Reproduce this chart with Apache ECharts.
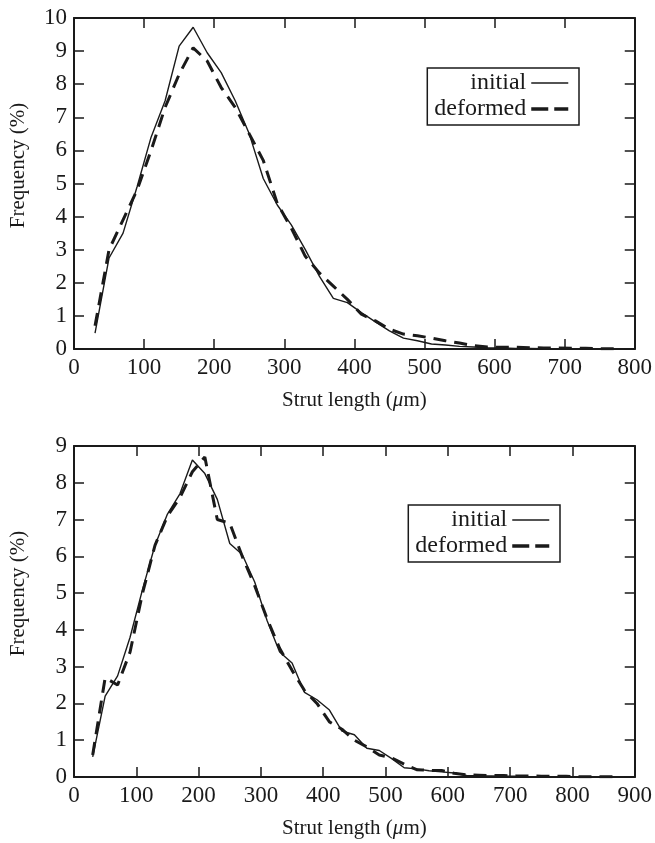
<!DOCTYPE html>
<html>
<head>
<meta charset="utf-8">
<script src="https://cdn.jsdelivr.net/npm/echarts@6/dist/echarts.min.js"></script>
<style>
  html, body { margin: 0; padding: 0; background: #fff; }
  #chart { width: 655px; height: 843px; }
</style>
</head>
<body>
<div id="chart"></div>
<script>
// Strut length bins (µm) and frequency (%) for the two samples
const lengthsA = [30, 50, 70, 90, 110, 130, 150, 170, 190, 210, 230, 250, 270, 290, 310, 330, 350, 370, 390, 410,
  430, 450, 470, 490, 510, 530, 550, 570, 590, 610, 630, 650, 670, 690, 710, 730, 750, 770];
const initialA = [0.48, 2.75, 3.5, 4.9, 6.4, 7.5, 9.15, 9.72, 8.95, 8.35, 7.5, 6.5, 5.15, 4.35, 3.75, 3.0, 2.2, 1.53, 1.4, 1.1,
  0.82, 0.55, 0.33, 0.25, 0.15, 0.12, 0.08, 0.06, 0.04, 0.03, 0.02, 0.02, 0.01, 0.01];
const deformedA = [0.7, 3.0, 3.9, 4.8, 6.0, 7.3, 8.3, 9.1, 8.7, 7.9, 7.3, 6.5, 5.7, 4.4, 3.65, 2.8, 2.3, 1.9, 1.5, 1.05,
  0.85, 0.6, 0.45, 0.4, 0.33, 0.25, 0.18, 0.1, 0.06, 0.05, 0.05, 0.04, 0.03, 0.03, 0.02, 0.02, 0.01, 0.01];

const lengthsB = [30, 50, 70, 90, 110, 130, 150, 170, 190, 210, 230, 250, 270, 290, 310, 330, 350, 370, 390, 410,
  430, 450, 470, 490, 510, 530, 550, 570, 590, 610, 630, 650, 670, 690, 710, 730, 750, 770, 790, 810, 830, 850, 870];
const initialB = [0.55, 2.2, 2.75, 3.8, 5.1, 6.3, 7.15, 7.7, 8.62, 8.25, 7.55, 6.35, 6.05, 5.3, 4.25, 3.4, 3.1, 2.3, 2.1, 1.82,
  1.25, 1.15, 0.78, 0.72, 0.5, 0.25, 0.22, 0.17, 0.14, 0.11, 0.04, 0.03, 0.03, 0.02, 0.02, 0.01];
const deformedB = [0.6, 2.7, 2.5, 3.4, 5.0, 6.3, 7.1, 7.6, 8.3, 8.7, 7.0, 6.9, 6.0, 5.2, 4.3, 3.5, 2.9, 2.35, 2.0, 1.5,
  1.3, 1.0, 0.82, 0.6, 0.52, 0.35, 0.2, 0.18, 0.18, 0.1, 0.06, 0.05, 0.04, 0.04, 0.03, 0.03, 0.02, 0.02, 0.02, 0.01,
  0.01, 0.01, 0.01];

const xTicksA = { min: 0, max: 800, interval: 100 };
const yTicksA = { min: 0, max: 10, interval: 1 };
const xTicksB = { min: 0, max: 900, interval: 100 };
const yTicksB = { min: 0, max: 9, interval: 1 };

const seriesNames = ['initial', 'deformed'];
const xTitle = 'Strut length ({i|\u03bc}m)';
const yTitle = 'Frequency (%)';

const FONT = '"Liberation Serif", "DejaVu Serif", serif';
const INK = '#1a1a1a';

const SOLID = { color: INK, width: 1.4, type: 'solid' };
const DASHED = { color: INK, width: 3, type: [13, 8] };

function pairs(xs, ys) {
  return ys.map((v, i) => [xs[i], v]);
}

function axisLine() {
  return { show: true, onZero: false, lineStyle: { color: INK, width: 2 } };
}
function axisTick() {
  return { show: true, inside: true, length: 10, lineStyle: { color: INK, width: 1.5 } };
}

function panelAxes(gridIndex, xt, yt) {
  const xs = [
    {
      type: 'value', gridIndex, position: 'bottom', min: xt.min, max: xt.max, interval: xt.interval,
      axisLine: axisLine(), axisTick: axisTick(), splitLine: { show: false },
      axisLabel: { color: INK, fontFamily: FONT, fontSize: 23, margin: 7 },
      name: xTitle, nameLocation: 'middle', nameGap: 41,
      nameTextStyle: { color: INK, fontFamily: FONT, fontSize: 21,
        rich: { i: { fontStyle: 'italic', fontFamily: FONT, fontSize: 21, color: INK } } }
    },
    {
      type: 'value', gridIndex, position: 'top', min: xt.min, max: xt.max, interval: xt.interval,
      axisLine: axisLine(), axisTick: axisTick(), axisLabel: { show: false }, splitLine: { show: false }
    }
  ];
  const ys = [
    {
      type: 'value', gridIndex, position: 'left', min: yt.min, max: yt.max, interval: yt.interval,
      axisLine: axisLine(), axisTick: axisTick(), splitLine: { show: false },
      axisLabel: { color: INK, fontFamily: FONT, fontSize: 23, margin: 7 },
      name: yTitle, nameLocation: 'middle', nameGap: 45, nameRotate: 90,
      // left padding lifts the rotated title a little above the axis centre
      nameTextStyle: { color: INK, fontFamily: FONT, fontSize: 21, padding: [0, 0, 0, 36] }
    },
    {
      type: 'value', gridIndex, position: 'right', min: yt.min, max: yt.max, interval: yt.interval,
      axisLine: axisLine(), axisTick: axisTick(), axisLabel: { show: false }, splitLine: { show: false }
    }
  ];
  return { xs, ys };
}

const pa = panelAxes(0, xTicksA, yTicksA);
const pb = panelAxes(1, xTicksB, yTicksB);

function lineSeries(name, xIdx, yIdx, data, style) {
  return {
    name, type: 'line', xAxisIndex: xIdx, yAxisIndex: yIdx, data,
    symbol: 'none', smooth: false, animation: false, silent: true,
    lineStyle: Object.assign({}, style),
    itemStyle: { color: INK }
  };
}

function legendBox(legendId, top, right) {
  return {
    id: legendId, orient: 'vertical', align: 'right', top, right,
    data: [
      { name: seriesNames[0], lineStyle: { color: INK, width: 1.4, type: 'solid' } },
      { name: seriesNames[1], lineStyle: { color: INK, width: 3.5, type: [17, 6] } }
    ],
    backgroundColor: '#fff', borderColor: INK, borderWidth: 1.5, borderRadius: 0,
    padding: [3, 9, 4, 7], itemGap: 2, itemWidth: 37, itemHeight: 14,
    // line sample only, no marker dot
    itemStyle: { opacity: 0 },
    textStyle: { color: INK, fontFamily: FONT, fontSize: 24 },
    selectedMode: false
  };
}

const chart = echarts.init(document.getElementById('chart'), null, { renderer: 'canvas' });
chart.setOption({
  backgroundColor: '#fff',
  animation: false,
  grid: [
    { left: 74, right: 13, top: 18, height: 331 },
    { left: 67, right: 13, top: 446, height: 331 }
  ],
  xAxis: [...pa.xs, ...pb.xs],
  yAxis: [...pa.ys, ...pb.ys],
  legend: [
    legendBox('legA', 68, 76),
    legendBox('legB', 505, 95)
  ],
  series: [
    lineSeries(seriesNames[0], 0, 0, pairs(lengthsA, initialA), SOLID),
    lineSeries(seriesNames[1], 0, 0, pairs(lengthsA, deformedA), DASHED),
    lineSeries(seriesNames[0], 2, 2, pairs(lengthsB, initialB), SOLID),
    lineSeries(seriesNames[1], 2, 2, pairs(lengthsB, deformedB), DASHED)
  ]
});
</script>
</body>
</html>
